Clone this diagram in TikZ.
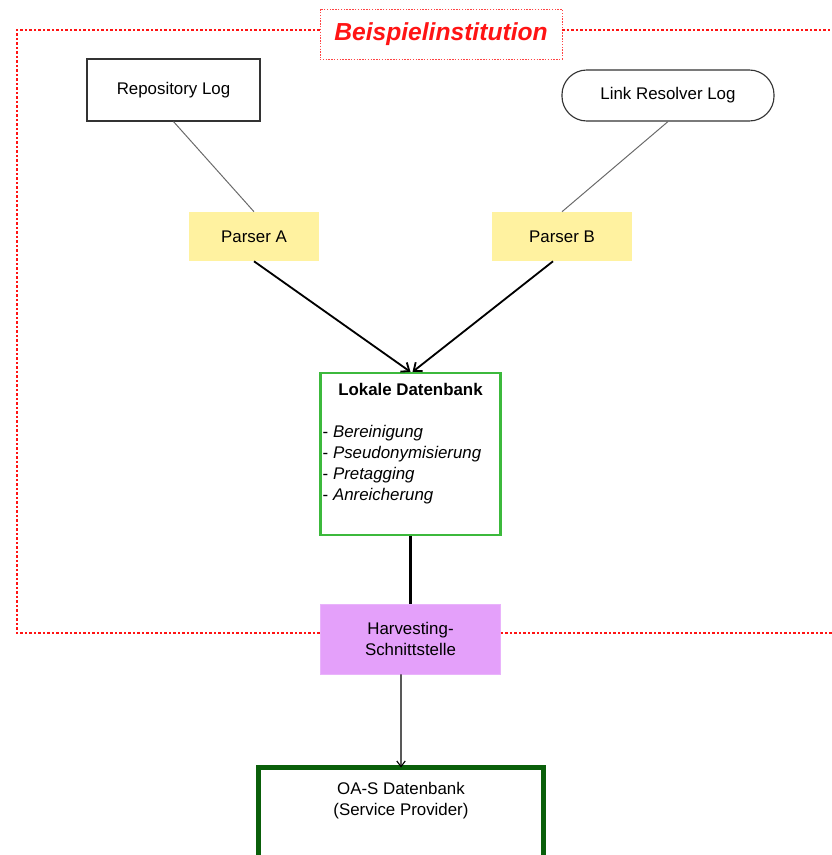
\documentclass[tikz,border=0pt]{standalone}
\usepackage{fontspec}
\setmainfont{Liberation Sans}
\usetikzlibrary{arrows.meta,calc}
\definecolor{framec}{RGB}{255,20,20}
\definecolor{parsec}{RGB}{255,242,160}
\definecolor{harvc}{RGB}{228,160,250}
\definecolor{lokc}{RGB}{60,185,60}
\definecolor{oasc}{RGB}{10,95,10}
\definecolor{linkc}{RGB}{105,105,105}
\tikzset{
  base/.style={font=\fontsize{12}{15}\selectfont,inner sep=2pt},
  logbox/.style={base,draw=black!80,line width=0.8pt,minimum height=1.55cm},
  parserbox/.style={base,fill=parsec,minimum height=1.225cm},
  feed/.style={linkc,line width=0.7pt},
  flow/.style={black,line width=1.3pt,-{Straight Barb[length=5pt,width=8pt]}},
  inst/.style={framec,line width=1.7pt,dash pattern=on 1.6pt off 1.6pt}
}
\begin{document}
\begin{tikzpicture}[x=0.025cm,y=-0.025cm,>=Latex]
\clip (0,0) rectangle (832,855);

%================= institution frame =================
\node[base,draw=framec!80,line width=0.5pt,dash pattern=on 1pt off 1pt,
  minimum width=6.05cm,minimum height=1.25cm,text=framec,
  font=\fontsize{17.5}{20}\selectfont\bfseries\itshape] (inst) at (441,34) {Beispielinstitution};

%================= sources =================
\node[logbox,minimum width=4.325cm] (rep) at (173.5,90) {Repository Log};
\node[logbox,rounded corners=0.62cm,minimum width=5.3cm,minimum height=1.275cm] (lr) at (668,95.5) {Link Resolver Log};

\node[parserbox,minimum width=3.25cm] (pa) at (254,236.5) {Parser A};
\node[parserbox,minimum width=3.5cm] (pb) at (562,236.5) {Parser B};

\draw[feed] (rep.south) -- (pa.north);
\draw[feed] (lr.south) -- (pb.north);

% --- local database
\node[draw=lokc,line width=1.5pt,minimum width=4.5cm,minimum height=4.05cm] (lok) at (410.5,454) {};
\node[base,anchor=north,font=\fontsize{12}{15}\selectfont\bfseries] (loktitle) at ([yshift=-0.2cm]lok.north) {Lokale Datenbank};
\node[base,anchor=north west,align=left,inner sep=0pt] (loksteps) at ($(lok.north west)+(3,53)$)
  {- \textit{Bereinigung}\\- \textit{Pseudonymisierung}\\- \textit{Pretagging}\\- \textit{Anreicherung}};

\draw[flow] (pa.south) -- (lok.north);
\draw[flow] ([xshift=-0.225cm]pb.south) -- ([xshift=0.05cm]lok.north);

% --- harvesting interface
\node[base,fill=harvc,draw=harvc!80!white,line width=0.4pt,align=center,
  minimum width=4.5cm,minimum height=1.75cm] (harv) at (410.5,639) {Harvesting-\\Schnittstelle};
\draw[black,line width=1.7pt] (lok.south) -- (harv.north);

\coordinate (tl) at (17,30);
\coordinate (bl) at (17,633);
\coordinate (tr) at (840,30);
\coordinate (br) at (840,633);
\draw[inst] (inst.west |- tl) -- (tl) -- (bl) -- (harv.west |- bl);
\draw[inst] (inst.east |- tr) -- (tr);
\draw[inst] (harv.east |- br) -- (br);

%================= service provider =================
\node[draw=oasc,line width=3.6pt,minimum width=7.1cm,minimum height=3.2cm,anchor=north] (oas) at (401,765) {};
\node[base,anchor=north,align=center] (oastext) at ([yshift=-0.35cm]oas.north) {OA-S Datenbank\\(Service Provider)};
\draw[black,line width=0.8pt,-{Straight Barb[length=4pt,width=6pt]}] ([xshift=-0.2375cm]harv.south) -- ([yshift=-1.8pt]oas.north);
\end{tikzpicture}
\end{document}
